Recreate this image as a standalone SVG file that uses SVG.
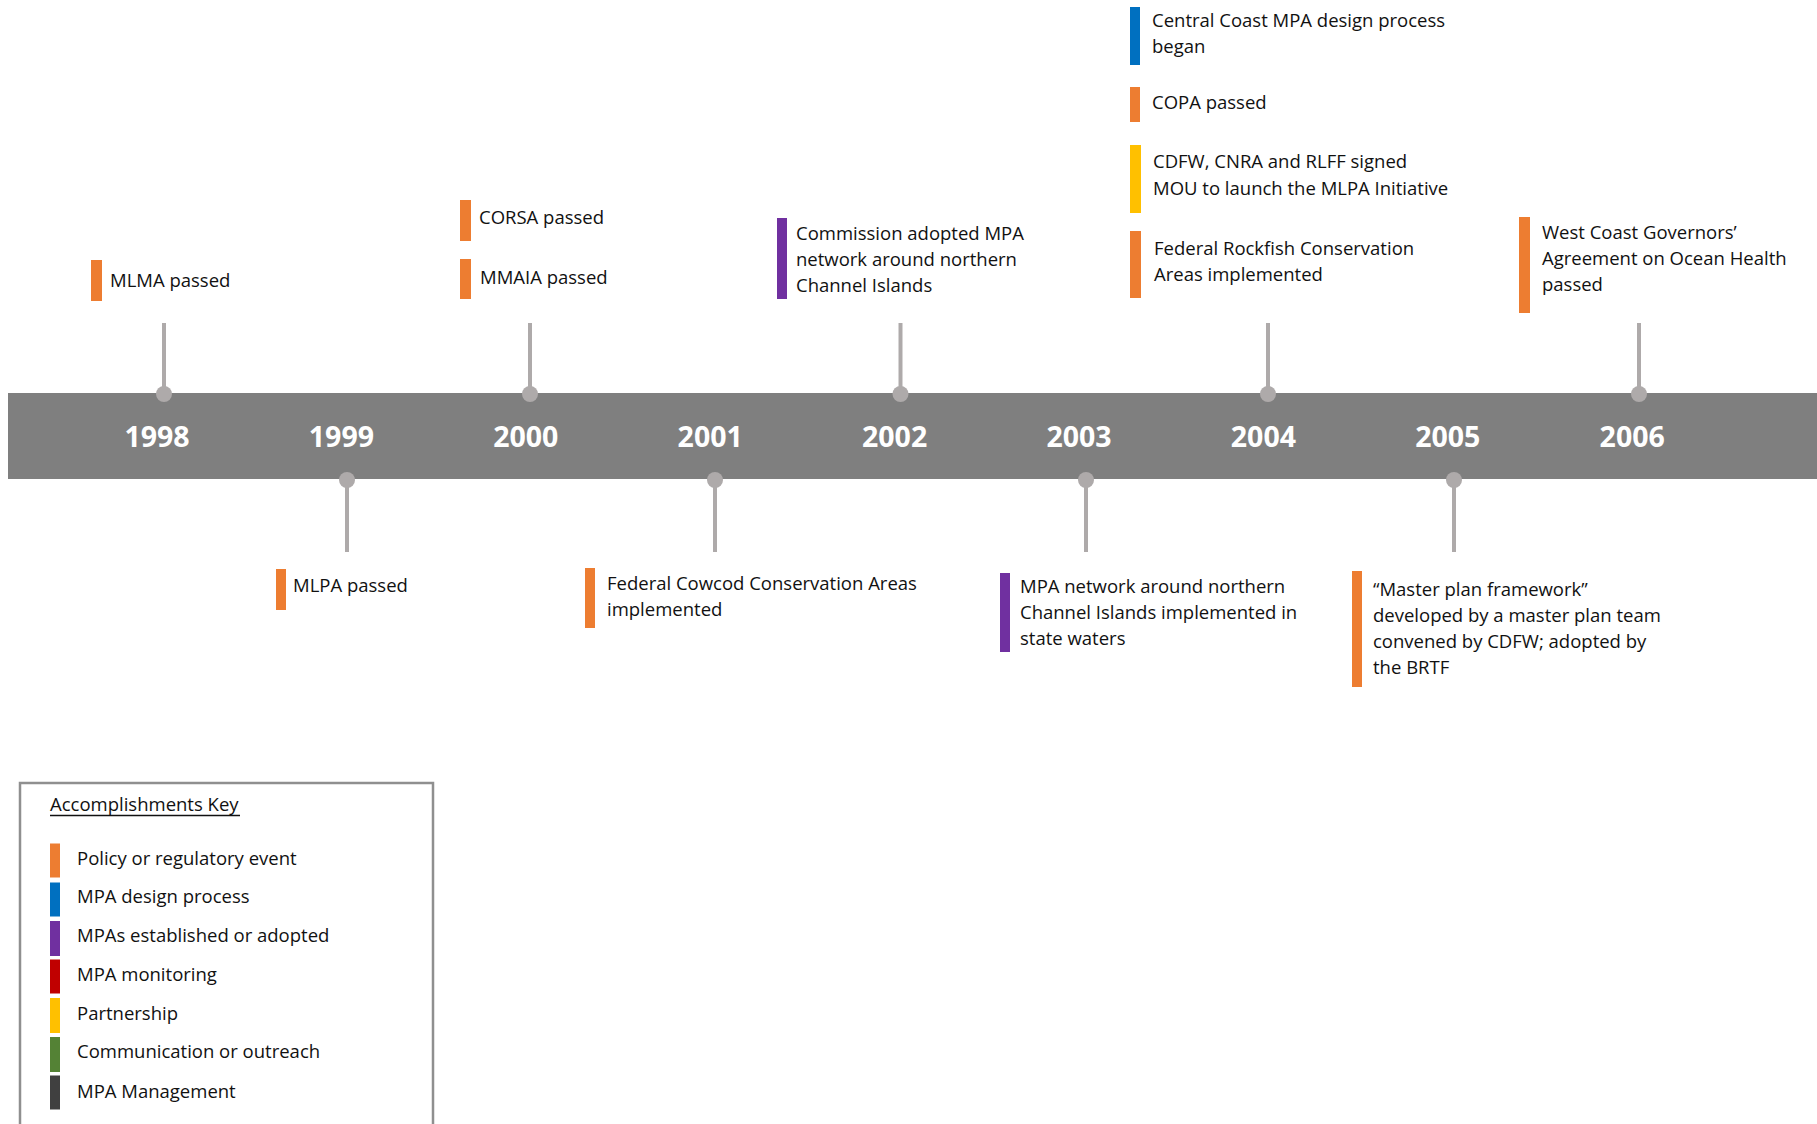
<svg xmlns="http://www.w3.org/2000/svg" width="1817" height="1124" viewBox="0 0 1817 1124">
<style>
.t{font-family:"Open Sans","Noto Sans","DejaVu Sans",sans-serif;font-size:18.5px;fill:#111}
.yr{font-family:"Open Sans","Noto Sans","DejaVu Sans",sans-serif;font-size:28.5px;font-weight:bold;fill:#fff;text-anchor:middle}
.tick{stroke:#aeaaaa;stroke-width:4;fill:none}
.dot{fill:#aeaaaa}
.or{fill:#ed7d31}.bl{fill:#0070c0}.pu{fill:#7030a0}.rd{fill:#c00000}.ye{fill:#ffc000}.gr{fill:#548235}.dk{fill:#404040}
</style>
<rect width="1817" height="1124" fill="#fff"/>
<g id="timeline">
<rect x="8" y="393" width="1809" height="86" fill="#7f7f7f"/>
<text class="yr" x="157" y="447">1998</text>
<text class="yr" x="341.4" y="447">1999</text>
<text class="yr" x="525.8" y="447">2000</text>
<text class="yr" x="710.2" y="447">2001</text>
<text class="yr" x="894.6" y="447">2002</text>
<text class="yr" x="1079" y="447">2003</text>
<text class="yr" x="1263.4" y="447">2004</text>
<text class="yr" x="1447.8" y="447">2005</text>
<text class="yr" x="1632.2" y="447">2006</text>
</g>
<g id="connectors">
<line class="tick" x1="164" y1="323" x2="164" y2="394"/><circle class="dot" cx="164" cy="394" r="8"/>
<line class="tick" x1="530" y1="323" x2="530" y2="394"/><circle class="dot" cx="530" cy="394" r="8"/>
<line class="tick" x1="900.5" y1="323" x2="900.5" y2="394"/><circle class="dot" cx="900.5" cy="394" r="8"/>
<line class="tick" x1="1268" y1="323" x2="1268" y2="394"/><circle class="dot" cx="1268" cy="394" r="8"/>
<line class="tick" x1="1639" y1="323" x2="1639" y2="394"/><circle class="dot" cx="1639" cy="394" r="8"/>
<line class="tick" x1="347" y1="479" x2="347" y2="552"/><circle class="dot" cx="347" cy="480" r="8"/>
<line class="tick" x1="715" y1="479" x2="715" y2="552"/><circle class="dot" cx="715" cy="480" r="8"/>
<line class="tick" x1="1086" y1="479" x2="1086" y2="552"/><circle class="dot" cx="1086" cy="480" r="8"/>
<line class="tick" x1="1454" y1="479" x2="1454" y2="552"/><circle class="dot" cx="1454" cy="480" r="8"/>
</g>
<g id="ev-mlma"><rect class="or" x="91" y="260" width="11" height="41"/><text class="t" x="110" y="287">MLMA passed</text></g>
<g id="ev-corsa"><rect class="or" x="460" y="200" width="11" height="41"/><text class="t" x="479" y="224">CORSA passed</text></g>
<g id="ev-mmaia"><rect class="or" x="460" y="259" width="11" height="40"/><text class="t" x="480" y="284">MMAIA passed</text></g>
<g id="ev-commission"><rect class="pu" x="777" y="218" width="10" height="81"/><text class="t" x="796" y="240"><tspan x="796">Commission adopted MPA</tspan><tspan x="796" dy="26">network around northern</tspan><tspan x="796" dy="26">Channel Islands</tspan></text></g>
<g id="ev-central"><rect class="bl" x="1130" y="7" width="10" height="58"/><text class="t" x="1152" y="27"><tspan x="1152">Central Coast MPA design process</tspan><tspan x="1152" dy="26">began</tspan></text></g>
<g id="ev-copa"><rect class="or" x="1130" y="87" width="10" height="35"/><text class="t" x="1152" y="109">COPA passed</text></g>
<g id="ev-mou"><rect class="ye" x="1130" y="145" width="11" height="68"/><text class="t" x="1153" y="168"><tspan x="1153">CDFW, CNRA and RLFF signed</tspan><tspan x="1153" dy="26.5">MOU to launch the MLPA Initiative</tspan></text></g>
<g id="ev-rockfish"><rect class="or" x="1130" y="231" width="11" height="67"/><text class="t" x="1154" y="255"><tspan x="1154">Federal Rockfish Conservation</tspan><tspan x="1154" dy="26">Areas implemented</tspan></text></g>
<g id="ev-westcoast"><rect class="or" x="1519" y="217" width="11" height="96"/><text class="t" x="1542" y="239"><tspan x="1542">West Coast Governors’</tspan><tspan x="1542" dy="26">Agreement on Ocean Health</tspan><tspan x="1542" dy="26">passed</tspan></text></g>
<g id="ev-mlpa"><rect class="or" x="276" y="569" width="10" height="41"/><text class="t" x="293" y="592">MLPA passed</text></g>
<g id="ev-cowcod"><rect class="or" x="585" y="568" width="10" height="60"/><text class="t" x="607" y="590"><tspan x="607">Federal Cowcod Conservation Areas</tspan><tspan x="607" dy="26">implemented</tspan></text></g>
<g id="ev-network"><rect class="pu" x="1000" y="573" width="10" height="79"/><text class="t" x="1020" y="593"><tspan x="1020">MPA network around northern</tspan><tspan x="1020" dy="26">Channel Islands implemented in</tspan><tspan x="1020" dy="26">state waters</tspan></text></g>
<g id="ev-masterplan"><rect class="or" x="1352" y="571" width="10" height="116"/><text class="t" x="1373" y="596"><tspan x="1373">“Master plan framework”</tspan><tspan x="1373" dy="26">developed by a master plan team</tspan><tspan x="1373" dy="26">convened by CDFW; adopted by</tspan><tspan x="1373" dy="26">the BRTF</tspan></text></g>
<g id="legend">
<rect x="20" y="783" width="413" height="360" fill="none" stroke="#8f8f8f" stroke-width="2.5"/>
<text class="t" x="50" y="811">Accomplishments Key</text>
<line x1="50" y1="815.5" x2="240" y2="815.5" stroke="#111" stroke-width="1.3"/>
<rect class="or" x="50" y="843.5" width="10" height="34"/><text class="t" x="77" y="865">Policy or regulatory event</text>
<rect class="bl" x="50" y="882.5" width="10" height="34"/><text class="t" x="77" y="903">MPA design process</text>
<rect class="pu" x="50" y="921" width="10" height="35"/><text class="t" x="77" y="942">MPAs established or adopted</text>
<rect class="rd" x="50" y="959.5" width="10" height="34"/><text class="t" x="77" y="981">MPA monitoring</text>
<rect class="ye" x="50" y="998" width="10" height="35"/><text class="t" x="77" y="1020">Partnership</text>
<rect class="gr" x="50" y="1037" width="10" height="35"/><text class="t" x="77" y="1058">Communication or outreach</text>
<rect class="dk" x="50" y="1075.5" width="10" height="34"/><text class="t" x="77" y="1098">MPA Management</text>
</g>
</svg>
